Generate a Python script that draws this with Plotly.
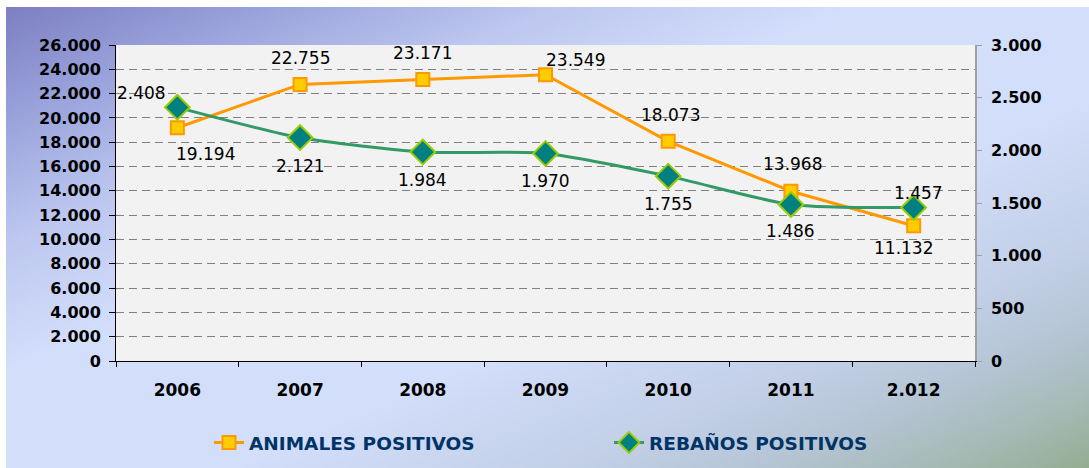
import base64, struct, zlib
import numpy as np
import plotly.graph_objects as go

# ---------------- data ----------------
years = ["2006", "2007", "2008", "2009", "2010", "2011", "2.012"]
animales = [19194, 22755, 23171, 23549, 18073, 13968, 11132]
rebanos = [2408, 2121, 1984, 1970, 1755, 1486, 1457]
name_animales = "ANIMALES POSITIVOS"
name_rebanos = "REBAÑOS POSITIVOS"
left_ticks = list(range(0, 26001, 2000))
right_ticks = list(range(0, 3001, 500))

# label offsets (px) relative to each point
anim_shift = [(28, -26), (0, 26), (0, 26), (30, 15), (2, 26), (2, 27), (-10, -22)]
reb_shift = [(-36, 14), (0, -28), (0, -28), (0, -28), (0, -28), (0, -27), (5, 15)]

W, H = 1089, 468
ML, MR, MT, MB = 116, 114, 45, 107
PW, PH = W - ML - MR, H - MT - MB


def fmt(v):
    return f"{v:,}".replace(",", ".")


# ---------------- gradient background image ----------------
def gradient_png(w, h):
    u = np.linspace(0, 1, w)[None, :]
    v = np.linspace(0, 1, h)[:, None]
    t = (u + v) / 2.0
    stops = [0.0, 0.14, 0.25, 0.38, 0.6, 0.75, 0.83, 0.92, 1.0]
    cols = np.array([
        (126, 128, 195), (160, 170, 224), (190, 200, 240), (211, 222, 252),
        (211, 222, 250), (195, 208, 232), (183, 198, 215), (165, 186, 180),
        (145, 172, 140)], dtype=float)
    img = np.zeros((h, w, 3))
    for c in range(3):
        img[:, :, c] = np.interp(t, stops, cols[:, c])
    img = np.clip(img, 0, 255).astype(np.uint8)
    raw = b"".join(b"\x00" + img[r].tobytes() for r in range(h))

    def chunk(tag, data):
        c = struct.pack(">I", len(data)) + tag + data
        return c + struct.pack(">I", zlib.crc32(tag + data) & 0xffffffff)

    png = b"\x89PNG\r\n\x1a\n"
    png += chunk(b"IHDR", struct.pack(">IIBBBBB", w, h, 8, 2, 0, 0, 0))
    png += chunk(b"IDAT", zlib.compress(raw, 9))
    png += chunk(b"IEND", b"")
    return "data:image/png;base64," + base64.b64encode(png).decode()


bg_x0, bg_y0 = 6, 7
bg_src = gradient_png(271, 115)

FONT = "DejaVu Sans"

fig = go.Figure()
fig.add_trace(go.Scatter(
    x=years, y=animales, name=name_animales, mode="lines+markers",
    line=dict(color="#FF9900", width=3),
    marker=dict(symbol="square", size=13, color="#FFCC00",
                line=dict(color="#FF9900", width=2)),
    yaxis="y", cliponaxis=False,
))
fig.add_trace(go.Scatter(
    x=years, y=rebanos, name=name_rebanos, mode="lines+markers",
    line=dict(color="#339966", width=3, shape="spline", smoothing=0.7),
    marker=dict(symbol="diamond", size=19, color="#008080",
                line=dict(color="#99CC00", width=2)),
    yaxis="y2", cliponaxis=False,
))

annotations = []
for i, (v, (dx, dy)) in enumerate(zip(animales, anim_shift)):
    annotations.append(dict(x=i, y=v, xref="x", yref="y", text=fmt(v),
                            showarrow=False, xshift=dx, yshift=dy,
                            font=dict(family=FONT, size=17, color="#000000")))
for i, (v, (dx, dy)) in enumerate(zip(rebanos, reb_shift)):
    annotations.append(dict(x=i, y=v, xref="x", yref="y2", text=fmt(v),
                            showarrow=False, xshift=dx, yshift=dy,
                            font=dict(family=FONT, size=17, color="#000000")))

fig.update_layout(
    width=W, height=H,
    margin=dict(l=ML, r=MR, t=MT, b=MB, autoexpand=False),
    paper_bgcolor="#FFFFFF",
    plot_bgcolor="#F2F2F2",
    separators=",.",
    showlegend=True,
    legend=dict(orientation="h", x=(209 - ML) / PW, xanchor="left",
                y=(MT + PH - 443) / PH, yanchor="middle",
                bgcolor="rgba(0,0,0,0)", entrywidth=355, entrywidthmode="pixels",
                font=dict(family=FONT, size=18.5, color="#003366", weight="bold")),
    xaxis=dict(type="category", range=[-0.5, len(years) - 0.5],
               showgrid=False, showline=True, linecolor="#000000",
               linewidth=1, ticks="outside", tickson="boundaries", ticklen=5,
               tickcolor="#000000", ticklabelstandoff=14, tickangle=0,
               automargin=False,
               tickfont=dict(family=FONT, size=17, color="#000000", weight="bold")),
    yaxis=dict(range=[0, 26000], tickvals=left_ticks, tickformat=",d",
               showgrid=True, gridcolor="#808080", griddash="8px,5px", gridwidth=1,
               zeroline=False, showline=True, linecolor="#000000", linewidth=1,
               ticks="outside", ticklen=6, tickcolor="#000000", ticklabelstandoff=5,
               automargin=False,
               tickfont=dict(family=FONT, size=16, color="#000000", weight="bold")),
    yaxis2=dict(range=[0, 3000], tickvals=right_ticks, tickformat=",d",
                overlaying="y", side="right", showgrid=False, zeroline=False,
                showline=True, linecolor="#A0A0A0", linewidth=1.5,
                ticks="outside", ticklen=5, tickcolor="#A0A0A0", ticklabelstandoff=6,
                automargin=False,
                tickfont=dict(family=FONT, size=16, color="#000000", weight="bold")),
    annotations=annotations,
    images=[dict(source=bg_src, xref="paper", yref="paper",
                 x=(bg_x0 - ML) / PW, y=1 + (MT - bg_y0) / PH,
                 sizex=(W + 10 - bg_x0) / PW, sizey=(H + 10 - bg_y0) / PH,
                 xanchor="left", yanchor="top", sizing="stretch", layer="below")],
    shapes=[dict(type="rect", xref="paper", yref="paper", x0=0, x1=1, y0=0, y1=1,
                 fillcolor="#F2F2F2", line=dict(width=0), layer="below")],
)

fig.write_html("out.html")
